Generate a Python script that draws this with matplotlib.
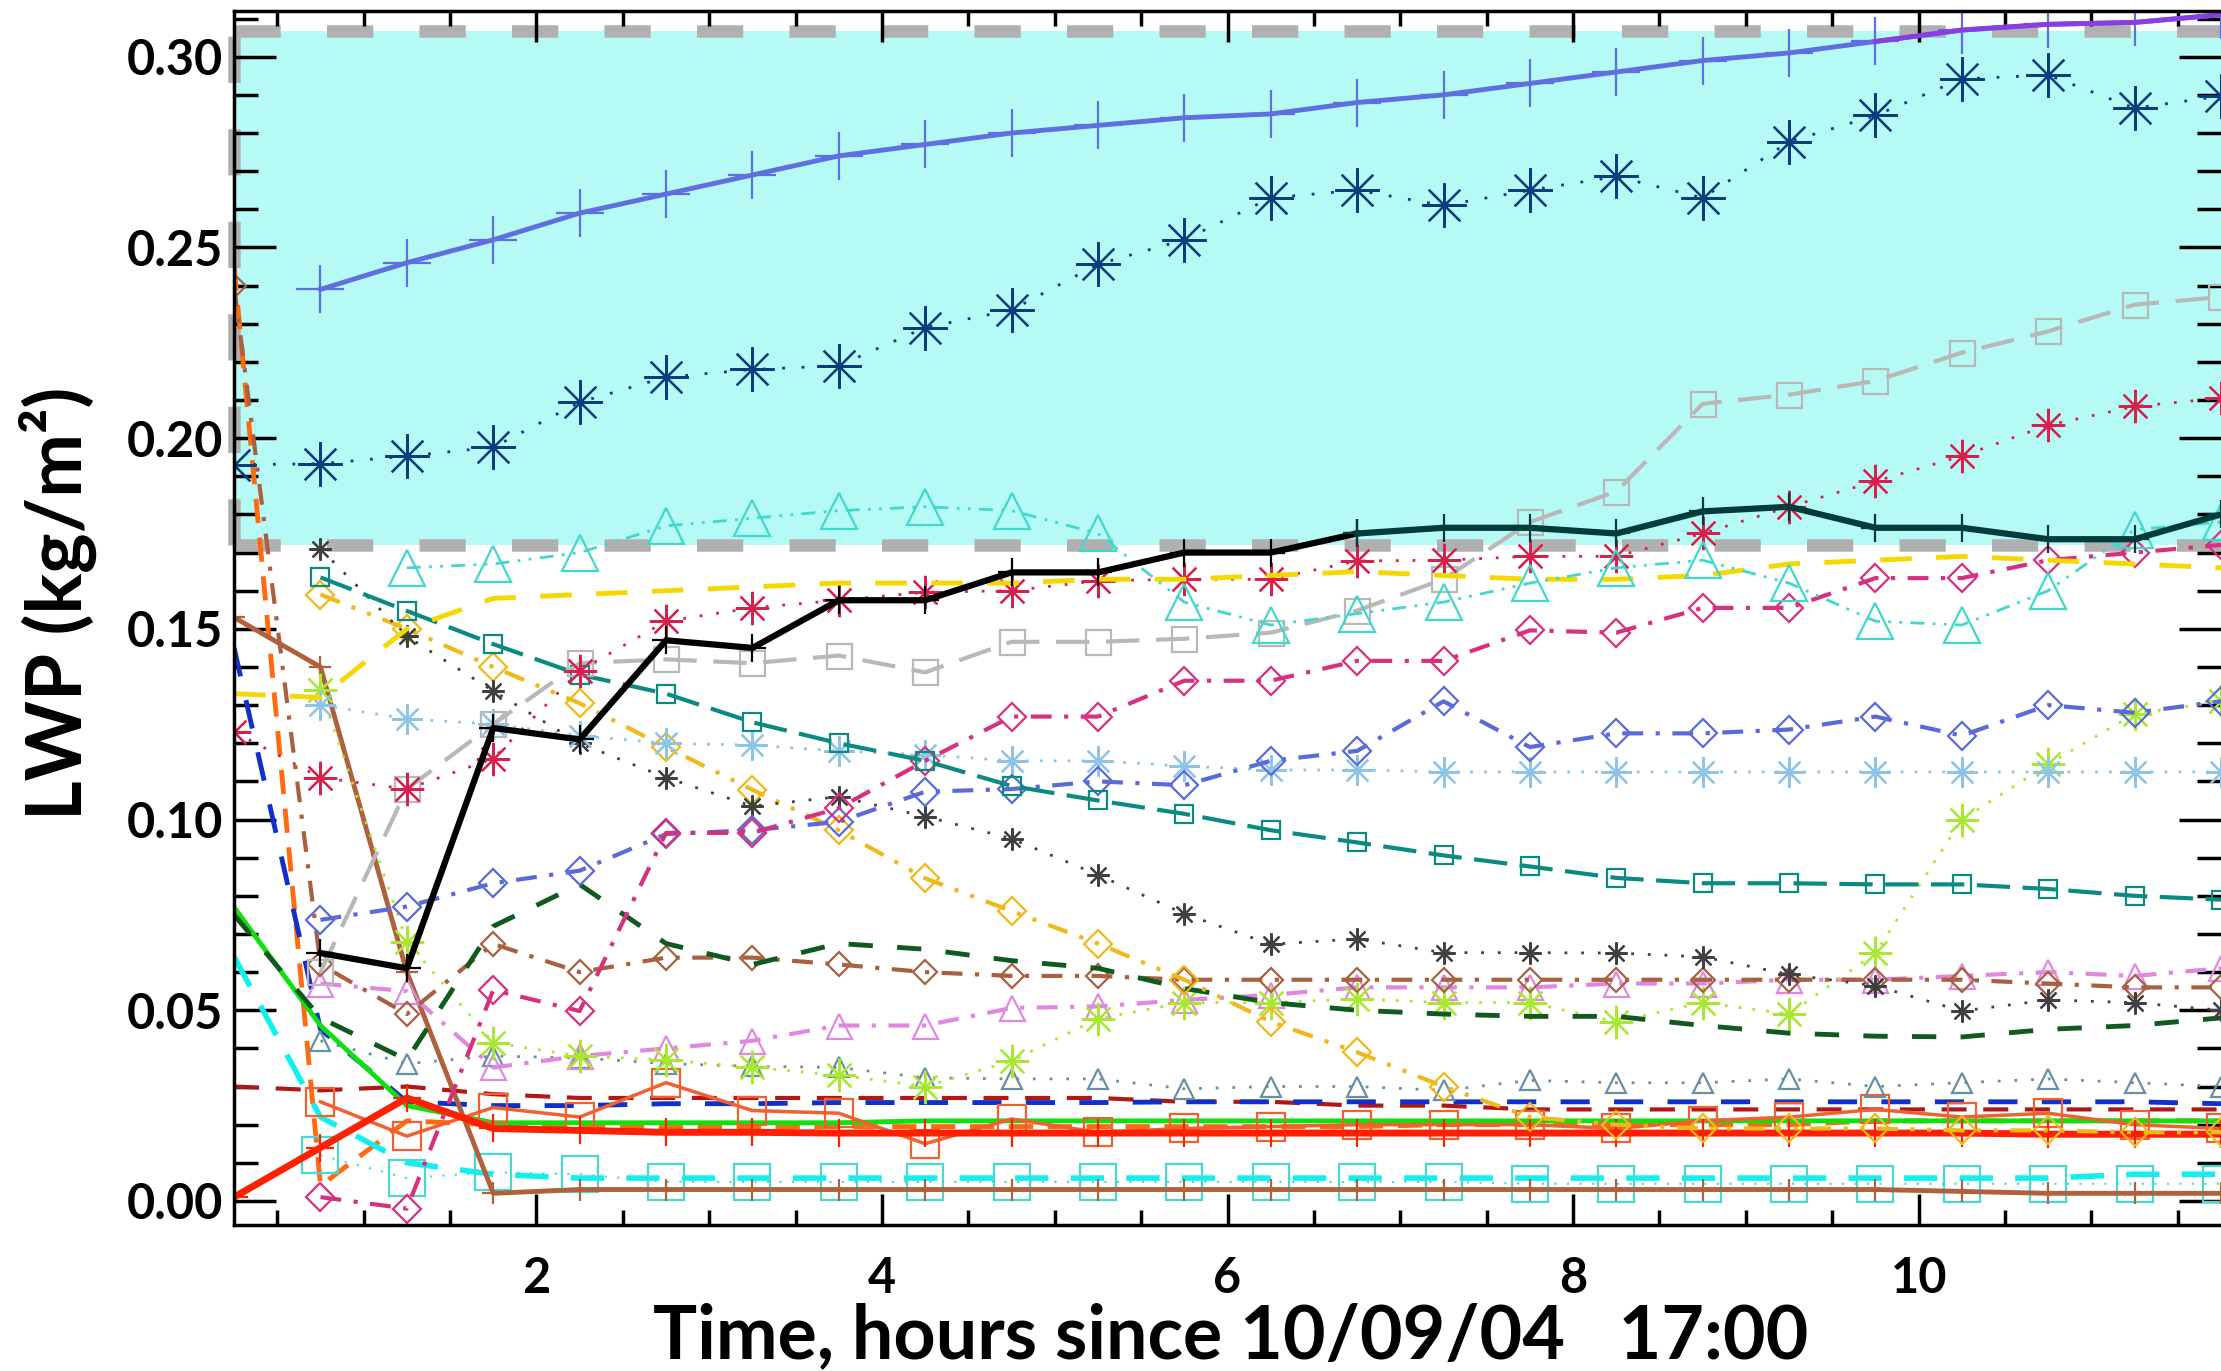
import numpy as np
import matplotlib
matplotlib.use("Agg")
import matplotlib.pyplot as plt
from matplotlib.ticker import MultipleLocator, FormatStrFormatter

plt.rcParams['font.family'] = ['Lato', 'DejaVu Sans']
plt.rcParams['font.weight'] = 'bold'

nan = np.nan

# time axis, hours since 10/09/04 17:00
hours = [0.25, 0.75, 1.25, 1.75, 2.25, 2.75, 3.25, 3.75, 4.25, 4.75, 5.25, 5.75,
         6.25, 6.75, 7.25, 7.75, 8.25, 8.75, 9.25, 9.75, 10.25, 10.75, 11.25, 11.75]

# shaded observed range (kg/m2)
band_low = 0.1719
band_high = 0.3067

# LWP of each model run (kg/m2)
blue_plus = [nan, 0.239, 0.246, 0.252, 0.259, 0.264, 0.269, 0.274, 0.277, 0.280, 0.282, 0.284,
             0.285, 0.288, 0.290, 0.293, 0.296, 0.299, 0.301, 0.304, 0.307, 0.3085, 0.309, 0.311]
purple_top = [nan, nan, nan, nan, nan, nan, nan, nan, nan, nan, nan, nan,
              nan, nan, nan, nan, nan, nan, nan, 0.304, 0.307, 0.3085, 0.309, 0.311]
navy_star = [0.193, 0.1933, 0.1953, 0.1976, 0.2094, 0.216, 0.218, 0.219, 0.229, 0.2336, 0.2456, 0.252,
             0.263, 0.265, 0.261, 0.265, 0.2686, 0.263, 0.2777, 0.2846, 0.2942, 0.2952, 0.2865, 0.2897]
cyan_tri = [nan, nan, 0.166, 0.167, 0.170, 0.177, 0.179, 0.181, 0.182, 0.181, 0.175, 0.157,
            0.151, 0.154, 0.157, 0.162, 0.166, 0.168, 0.162, 0.152, 0.151, 0.160, 0.176, 0.178]
black_plus = [nan, 0.065, 0.061, 0.124, 0.121, 0.147, 0.145, 0.1575, 0.1575, 0.1648, 0.1648, 0.170,
              0.170, 0.175, nan, nan, nan, nan, nan, nan, nan, nan, nan, nan]
darkteal_plus = [nan, nan, nan, nan, nan, nan, nan, nan, nan, nan, nan, nan,
                 nan, 0.175, 0.1765, 0.1765, 0.175, 0.1808, 0.182, 0.1765, 0.1765, 0.1735, 0.1735, 0.180]
yellow_dash = [0.133, 0.132, 0.150, 0.158, 0.159, 0.160, 0.161, 0.162, 0.162, 0.162, 0.163, 0.163,
               0.164, 0.165, 0.164, 0.163, 0.163, 0.164, 0.167, 0.168, 0.169, 0.168, 0.167, 0.166]
crimson_star = [0.123, 0.111, 0.108, 0.116, 0.139, 0.152, 0.1555, 0.1575, 0.1596, 0.160, 0.1626, 0.163,
                0.163, 0.1678, 0.168, 0.169, 0.169, 0.175, 0.182, 0.1887, 0.1953, 0.2034, 0.2083, 0.2105]
grey_sq = [nan, 0.060, 0.108, 0.125, 0.141, 0.142, 0.141, 0.143, 0.1386, 0.1466, 0.1466, 0.1474,
           0.149, 0.1548, 0.163, 0.178, 0.186, 0.209, 0.2114, 0.215, 0.2224, 0.228, 0.235, 0.237]
teal_sq = [nan, 0.1635, 0.1547, 0.146, 0.138, 0.133, 0.1255, 0.120, 0.1154, 0.1088, 0.105, 0.1015,
           0.0972, 0.094, 0.0906, 0.0877, 0.0847, 0.0833, 0.0833, 0.083, 0.083, 0.0818, 0.080, 0.079]
magenta_dia = [nan, 0.001, -0.002, 0.0553, 0.0498, 0.0965, 0.0965, 0.103, 0.1154, 0.127, 0.127, 0.1364,
               0.1364, 0.1416, 0.1416, 0.1496, 0.149, 0.1555, 0.1555, 0.1633, 0.1633, 0.168, 0.170, 0.172]
slate_dia = [nan, 0.0737, 0.0772, 0.0833, 0.0866, 0.0962, 0.0972, 0.0994, 0.1073, 0.108, 0.110, 0.109,
             0.1154, 0.118, 0.131, 0.119, 0.1226, 0.1226, 0.1236, 0.127, 0.122, 0.130, 0.128, 0.131]
lightblue_star = [nan, 0.130, 0.1264, 0.125, 0.122, 0.120, 0.1195, 0.118, 0.117, 0.1154, 0.1154, 0.114,
                  0.113, 0.113, 0.1125, 0.1125, 0.1125, 0.1125, 0.1125, 0.1125, 0.1125, 0.1125, 0.1125, 0.1125]
darkgrey_star = [nan, 0.171, 0.148, 0.1337, 0.120, 0.111, 0.1035, 0.106, 0.1008, 0.095, 0.0855, 0.0753,
                 0.0673, 0.0687, 0.0651, 0.0651, 0.065, 0.064, 0.0594, 0.0564, 0.0498, 0.0527, 0.052, 0.050]
gold_dia = [nan, 0.159, 0.150, 0.140, 0.1305, 0.119, 0.1078, 0.0972, 0.0846, 0.076, 0.0675, 0.058,
            0.047, 0.039, 0.030, 0.022, 0.020, 0.019, 0.019, 0.019, 0.0185, 0.0185, 0.018, 0.018]
darkgreen_dash = [0.075, 0.048, 0.037, 0.072, 0.083, 0.0675, 0.062, 0.0675, 0.066, 0.063, 0.061, 0.0557,
                  0.052, 0.050, 0.049, 0.0484, 0.0484, 0.046, 0.044, 0.0432, 0.043, 0.045, 0.046, 0.048]
brown_dia = [0.240, 0.062, 0.049, 0.0674, 0.060, 0.0638, 0.0638, 0.062, 0.060, 0.059, 0.059, 0.058,
             0.058, 0.058, 0.058, 0.058, 0.058, 0.058, 0.058, 0.058, 0.058, 0.057, 0.056, 0.056]
violet_tri = [nan, 0.057, 0.055, 0.035, 0.038, 0.040, 0.042, 0.046, 0.046, 0.0506, 0.051, 0.0527,
              0.054, 0.056, 0.056, 0.056, 0.057, 0.057, 0.058, 0.058, 0.059, 0.060, 0.059, 0.061]
steel_tri = [nan, 0.042, 0.036, 0.038, 0.0375, 0.036, 0.0353, 0.035, 0.0323, 0.032, 0.032, 0.0294,
             0.030, 0.030, 0.029, 0.0316, 0.031, 0.031, 0.032, 0.030, 0.031, 0.032, 0.031, 0.030]
chartreuse_star = [nan, 0.134, 0.068, 0.0415, 0.038, 0.037, 0.035, 0.033, 0.030, 0.0367, 0.0478, 0.052,
                   0.052, 0.053, 0.052, 0.052, 0.047, 0.052, 0.049, 0.065, 0.100, 0.1145, 0.1277, 0.131]
lime_line = [0.077, 0.046, 0.025, 0.0205, 0.0205, 0.0205, 0.0205, 0.0205, 0.021, 0.021, 0.021, 0.021,
             0.021, 0.021, 0.021, 0.021, 0.021, 0.021, 0.021, 0.021, 0.021, 0.021, 0.021, 0.021]
red_plus = [0.001, 0.014, 0.027, 0.019, 0.0185, 0.018, 0.018, 0.0178, 0.0178, 0.0178, 0.0178, 0.0178,
            0.0178, 0.0178, 0.0178, 0.0178, 0.0178, 0.0178, 0.0178, 0.0178, 0.0178, 0.0175, 0.0175, 0.0175]
brown_plus = [0.153, 0.140, 0.060, 0.002, 0.003, 0.003, 0.003, 0.003, 0.003, 0.003, 0.003, 0.003,
              0.003, 0.003, 0.003, 0.003, 0.003, 0.003, 0.003, 0.003, 0.0025, 0.002, 0.002, 0.002]
cyan_dash = [0.064, 0.022, 0.010, 0.007, 0.006, 0.006, 0.006, 0.006, 0.006, 0.006, 0.006, 0.006,
             0.006, 0.006, 0.006, 0.006, 0.006, 0.006, 0.006, 0.006, 0.006, 0.006, 0.007, 0.007]
turq_sq = [nan, 0.012, 0.006, 0.0075, 0.007, 0.005, 0.005, 0.005, 0.005, 0.005, 0.005, 0.005,
           0.005, 0.005, 0.005, 0.0045, 0.0045, 0.0045, 0.0045, 0.0045, 0.0045, 0.0045, 0.0045, 0.0045]
orange_sq = [nan, 0.026, 0.017, 0.0245, 0.022, 0.031, 0.0237, 0.023, 0.015, 0.0215, 0.018, 0.019,
             0.0195, 0.020, 0.020, 0.020, 0.019, 0.021, 0.022, 0.024, 0.022, 0.023, 0.020, 0.019]
darkblue_dash = [0.145, 0.045, 0.026, 0.025, 0.025, 0.0255, 0.0255, 0.0258, 0.0258, 0.0258, 0.0258, 0.026,
                 0.026, 0.026, 0.026, 0.026, 0.026, 0.026, 0.026, 0.026, 0.026, 0.026, 0.026, 0.0255]
maroon_dash = [0.030, 0.029, 0.030, 0.028, 0.027, 0.027, 0.027, 0.027, 0.027, 0.027, 0.027, 0.026,
               0.026, 0.025, 0.025, 0.024, 0.024, 0.024, 0.024, 0.024, 0.024, 0.024, 0.024, 0.024]
orange_dash = [0.245, 0.004, 0.021, 0.020, 0.0195, 0.0195, 0.0195, 0.0195, 0.0195, 0.0195, 0.0195, 0.0195,
               0.0195, 0.0195, 0.020, 0.020, 0.020, 0.020, 0.020, 0.021, 0.021, 0.021, 0.021, 0.021]

x_ticks = [2, 4, 6, 8, 10]
y_ticks = [0.00, 0.05, 0.10, 0.15, 0.20, 0.25, 0.30]

ASTER = (8, 2, 0)
dotted = (0, (1, 5))
dashdot = (0, (5, 3, 1, 3))
dashdotdot = (0, (5, 3, 1, 3, 1, 3))

# (values, color, linestyle, linewidth, marker, markersize)
series = [
    (orange_dash, '#ff6a10', (0, (5, 3)), 3.5, None, 0),
    (maroon_dash, '#b01818', (0, (6, 4)), 3.0, None, 0),
    (darkblue_dash, '#1030c8', (0, (6, 5)), 3.5, None, 0),
    (lime_line, '#10e010', '-', 3.5, None, 0),
    (cyan_dash, '#10f0f0', (0, (6, 4)), 4.0, None, 0),
    (turq_sq, '#48d8d0', dotted, 1.5, 's', 26),
    (orange_sq, '#f06030', '-', 2.5, 's', 20),
    (brown_plus, '#b0603c', '-', 3.5, '+', 16),
    (red_plus, '#ff2000', '-', 5.0, '+', 20),
    (steel_tri, '#6a8fa0', dotted, 2.0, '^', 15),
    (violet_tri, '#e088e0', dashdot, 3.0, '^', 18),
    (chartreuse_star, '#a8e830', (0, (1, 4)), 2.0, ASTER, 24),
    (brown_dia, '#a86040', dashdot, 3.0, 'D', 12),
    (darkgreen_dash, '#105a20', (0, (5, 5)), 3.5, None, 0),
    (gold_dia, '#f0b818', dashdotdot, 3.0, 'D', 14),
    (darkgrey_star, '#404040', dotted, 2.0, ASTER, 16),
    (lightblue_star, '#8ec4e8', (0, (1, 4)), 2.0, ASTER, 22),
    (slate_dia, '#5a6ad8', dashdot, 3.0, 'D', 14),
    (magenta_dia, '#d83080', dashdot, 3.0, 'D', 14),
    (teal_sq, '#0a8a80', (0, (8, 3)), 3.0, 's', 13),
    (grey_sq, '#b8b8b8', (0, (8, 4)), 3.0, 's', 18),
    (crimson_star, '#d8204c', dotted, 2.0, ASTER, 24),
    (yellow_dash, '#f5d800', (0, (6.5, 5)), 3.5, None, 0),
    (cyan_tri, '#40d8cc', dashdotdot, 2.0, '^', 26),
    (navy_star, '#0a3d80', (0, (1, 6)), 2.0, ASTER, 32),
    (black_plus, 'black', '-', 4.5, '+', 20),
    (darkteal_plus, '#003c3a', '-', 4.5, '+', 20),
    (blue_plus, '#5f6fe0', '-', 3.5, '+', 34),
    (purple_top, '#8a3ee0', '-', 3.5, None, 0),
]

fig = plt.figure(figsize=(22.21, 13.71), dpi=100)
ax = fig.add_axes([0.1054, 0.1065, 0.8946, 0.8855])

ax.axhspan(band_low, band_high, color='#b6faf5', lw=0, zorder=0)
grey_kw = dict(color='#b0b0b0', lw=9, dashes=(3.7, 3.7), zorder=1)
ax.axhline(band_high, **grey_kw)
ax.axhline(band_low, **grey_kw)
ax.plot([hours[0], hours[0]], [band_low, band_high], clip_on=False, **grey_kw)

for vals, col, ls, lw, mk, ms in series:
    ax.plot(hours, vals, color=col, linestyle=ls, lw=lw, marker=mk, markersize=ms,
            markerfacecolor='none', markeredgecolor=col, markeredgewidth=1.6, zorder=2)

ax.set_xlim(0.25, 11.75)
ax.set_ylim(-0.0063, 0.312)
ax.set_xticks(x_ticks)
ax.set_yticks(y_ticks)
ax.xaxis.set_minor_locator(MultipleLocator(0.5))
ax.yaxis.set_minor_locator(MultipleLocator(0.01))
ax.yaxis.set_major_formatter(FormatStrFormatter('%.2f'))

ax.tick_params(axis='x', which='major', direction='in', length=22, width=2.5,
               top=True, bottom=True, labelsize=35, pad=22)
ax.tick_params(axis='x', which='minor', direction='in', length=11, width=2.5,
               top=True, bottom=True)
ax.tick_params(axis='y', which='major', direction='in', length=30, width=2.5,
               left=True, right=True, labelsize=35, pad=8)
ax.tick_params(axis='y', which='minor', direction='in', length=17, width=2.5,
               left=True, right=True)
for lab in ax.get_xticklabels() + ax.get_yticklabels():
    lab.set_fontweight('bold')

for side in ['left', 'top', 'bottom']:
    ax.spines[side].set_linewidth(2.5)
ax.spines['right'].set_visible(False)

fig.text(0.026, 0.56, 'LWP (kg/m²)', rotation=90, ha='center', va='center',
         fontsize=55, fontweight='bold')
fig.text(0.554, 0.009, 'Time, hours since 10/09/04   17:00', ha='center', va='baseline',
         fontsize=53, fontweight='bold')

fig.savefig('out.png', dpi=100)
